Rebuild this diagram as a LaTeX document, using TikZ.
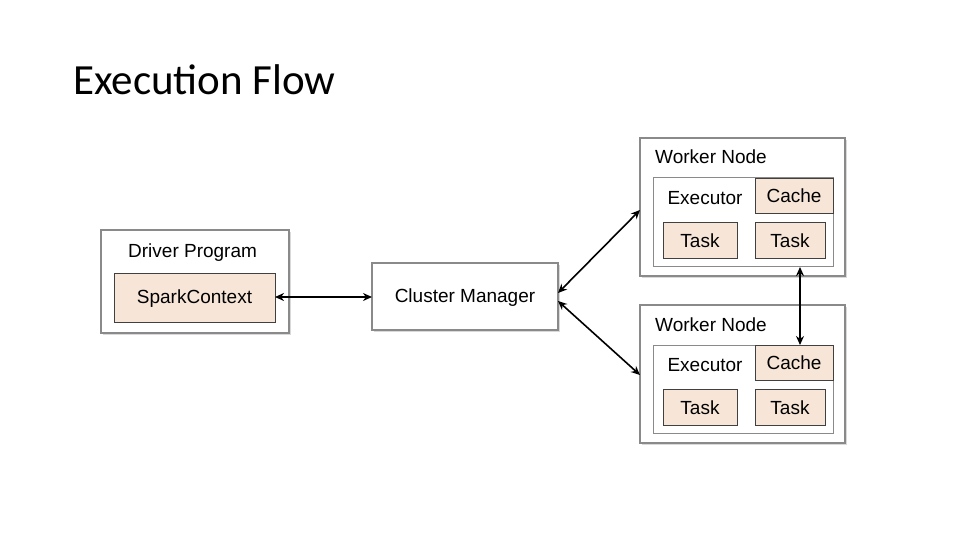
\documentclass[tikz,border=0pt]{standalone}
\usepackage{fontspec}
\setmainfont{Liberation Sans}
\newfontfamily\titlefont{Carlito}
\usetikzlibrary{arrows.meta,shadows}
\definecolor{beige}{HTML}{F7E6D8}
\definecolor{bord}{HTML}{8A8A8A}
\begin{document}
\begin{tikzpicture}[x=1pt,y=-1pt,
  outer/.style={draw=bord,line width=1.2pt,fill=white,drop shadow={shadow xshift=2pt,shadow yshift=-2pt,opacity=0.3}},
  exec/.style={draw=bord,line width=1pt,fill=white},
  inner/.style={draw=black!75,line width=0.8pt,fill=beige},
  lbl/.style={font=\fontsize{19}{21}\selectfont,anchor=base west,inner sep=0},
  ctr/.style={font=\fontsize{19}{21}\selectfont},
  arr/.style={{Stealth[length=9pt,width=8pt]}-{Stealth[length=9pt,width=8pt]},line width=1.6pt}]
\useasboundingbox (0,0) rectangle (960,540);
\node[anchor=base west,font=\titlefont\fontsize{43}{46}\selectfont,inner sep=0] (title) at (73,95) {Execution Flow};
% driver
\draw[outer] (101,230) rectangle (289,333);
\node[lbl] (dp) at (128,257) {Driver Program};
\draw[inner] (114,273) rectangle (275,322);
\node[ctr] (sc) at (194.5,299) {SparkContext};
\coordinate (scR) at (275,297);
% cluster manager
\draw[outer] (372,263) rectangle (558,330);
\node[ctr] (cm) at (465,298) {Cluster Manager};
\coordinate (cmL) at (372,297);
\coordinate (cmR1) at (558,293);
\coordinate (cmR2) at (558,301);
% workers
\foreach \i/\dy in {1/0,2/167}{
  \draw[outer] (640,138+\dy) rectangle (845,276+\dy);
  \node[lbl] (wn\i) at (655,164+\dy) {Worker Node};
  \draw[exec] (653,178+\dy) rectangle (833,266+\dy);
  \node[ctr] (ex\i) at (705,198+\dy) {Executor};
  \draw[inner] (755,178+\dy) rectangle (833,213+\dy);
  \node[ctr] (ca\i) at (794,196+\dy) {Cache};
  \draw[inner] (663,222+\dy) rectangle (737,258+\dy);
  \node[ctr] (ta\i) at (700,241+\dy) {Task};
  \draw[inner] (755,222+\dy) rectangle (825,258+\dy);
  \node[ctr] (tb\i) at (790,241+\dy) {Task};
}
\coordinate (w1) at (640,210);
\coordinate (w2) at (640,375);
\coordinate (v1) at (800,267);
\coordinate (v2) at (800,345);
\draw[arr] (scR) -- (cmL);
\draw[arr] (cmR1) -- (w1);
\draw[arr] (cmR2) -- (w2);
\draw[arr] (v1) -- (v2);
\end{tikzpicture}
\end{document}
